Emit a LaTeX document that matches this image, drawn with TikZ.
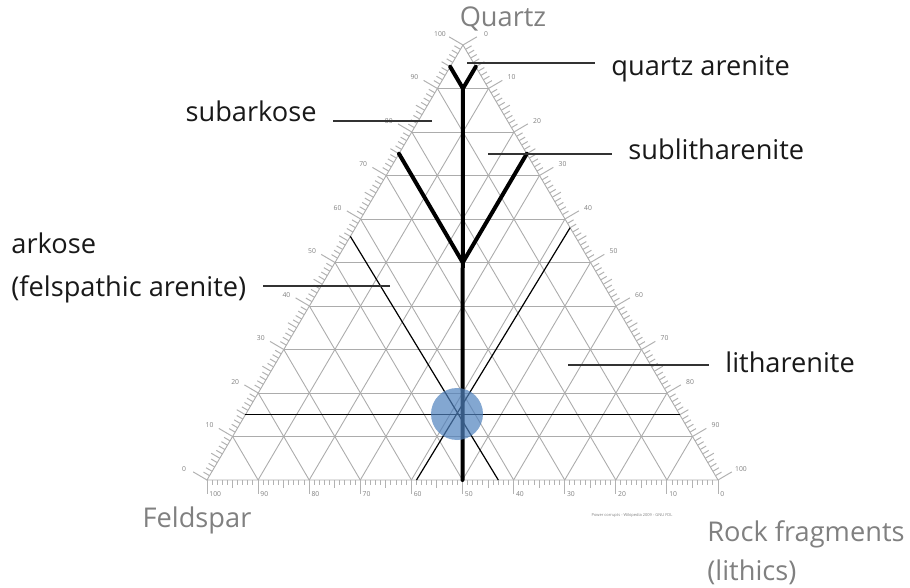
\documentclass[tikz,border=0pt]{standalone}
\usepackage{fontspec}
\setmainfont{Open Sans}
\usetikzlibrary{calc}
\begin{document}
\begin{tikzpicture}[x=0.5pt, y=-0.5pt,
    gridline/.style={draw=gray!65, line width=0.45pt},
    tickline/.style={draw=gray!60, line width=0.5pt},
    ticknum/.style={text=gray, font=\fontsize{3.4}{4}\selectfont, inner sep=0pt},
    classline/.style={line width=2pt, line cap=round},
    splitline/.style={line width=0.6pt},
    leader/.style={draw=black!80, line width=0.7pt},
    classname/.style={font=\fontsize{13.6}{16}\selectfont, text=black!90,
                      inner xsep=8pt, inner ysep=0pt},
    corner/.style={font=\fontsize{13.6}{16}\selectfont, text=gray, inner sep=0pt}
]
    \useasboundingbox (0,0) rectangle (910,588);

    % Corners of the triangle
    \coordinate (F) at (207,480);
    \coordinate (R) at (718,480);
    \coordinate (Q) at (463,45);

    % Grid every 10 %
    \foreach \i in {1,...,9}{
        \pgfmathsetmacro\a{\i/10}
        \pgfmathsetmacro\b{1-\i/10}
        \draw[gridline] (barycentric cs:Q=\a,F=\b) -- (barycentric cs:Q=\a,R=\b);
        \draw[gridline] (barycentric cs:R=\a,F=\b) -- (barycentric cs:R=\a,Q=\b);
        \draw[gridline] (barycentric cs:F=\a,R=\b) -- (barycentric cs:F=\a,Q=\b);
    }
    \draw[gridline] (F) -- (R) -- (Q) -- cycle;

    % Ticks
    \foreach \k in {0,...,100}{
        \pgfmathsetmacro\len{ifthenelse(mod(\k,10)==0,14,ifthenelse(mod(\k,5)==0,8,5))}
        \pgfmathsetmacro\side{ifthenelse(mod(\k,10)==0,16,ifthenelse(mod(\k,5)==0,10,7))}
        \draw[tickline] ($(F)!\k/100!(R)$) -- ++(0,{\len});
        \draw[tickline] ($(F)!\k/100!(Q)$) -- ++({-0.862*\side},{-0.506*\side});
        \draw[tickline] ($(Q)!\k/100!(R)$) -- ++({0.862*\side},{-0.506*\side});
    }

    % Tick numbers
    \foreach \v in {0,10,...,100}{
        \pgfmathtruncatemacro\w{100-\v}
        \node[ticknum, anchor=west] at ($(F)!\v/100!(R)+(2,14)$) {\w};
        \node[ticknum] at ($(F)!\v/100!(Q)+(-23,-11)$) {\v};
        \node[ticknum] at ($(Q)!\v/100!(R)+(23,-11)$) {\v};
    }

    % Class boundaries
    \coordinate (q95l) at (barycentric cs:Q=0.95,F=0.05);
    \coordinate (q95r) at (barycentric cs:Q=0.95,R=0.05);
    \coordinate (q90c) at (barycentric cs:Q=0.9,F=0.05,R=0.05);
    \coordinate (q75l) at (barycentric cs:Q=0.75,F=0.25);
    \coordinate (q75r) at (barycentric cs:Q=0.75,R=0.25);
    \coordinate (q50c) at (barycentric cs:Q=0.5,F=0.25,R=0.25);
    \coordinate (base) at (barycentric cs:F=0.5,R=0.5);
    \draw[classline] (q95l) -- (q90c) -- (q95r);
    \draw[classline] (q75l) -- (q50c) -- (q75r);
    \draw[classline] (q90c) -- (base);

    % Thin split lines
    \coordinate (q15l) at (barycentric cs:Q=0.15,F=0.85);
    \coordinate (q15r) at (barycentric cs:Q=0.15,R=0.85);
    \coordinate (sl1) at (barycentric cs:Q=0.56,F=0.44);
    \coordinate (sl2) at (barycentric cs:F=0.43,R=0.57);
    \coordinate (sr1) at (barycentric cs:Q=0.58,R=0.42);
    \coordinate (sr2) at (barycentric cs:F=0.59,R=0.41);
    \draw[splitline] (q15l) -- (q15r);
    \draw[splitline] (sl1) -- (sl2);
    \draw[splitline] (sr1) -- (sr2);

    % Class names
    \coordinate (qapt) at (467,63);
    \coordinate (sapt) at (432,121);
    \coordinate (slpt) at (488,154);
    \coordinate (arkpt) at (390,286);
    \coordinate (lipt) at (568,365);

    \node[classname, anchor=base west] (qa) at (595,76) {quartz arenite};
    \node[classname, anchor=base east] (sa) at (333,122) {subarkose};
    \node[classname, anchor=base west] (sl) at (612,160) {sublitharenite};
    \node[classname, anchor=base west] (ark) at (-5,254) {arkose};
    \node[classname, anchor=base west] (arkb) at (-5,297) {(felspathic arenite)};
    \node[classname, anchor=base west] (li) at (709,372) {litharenite};

    \draw[leader] (qapt) -- (qapt -| qa.west);
    \draw[leader] (sapt) -- (sapt -| sa.east);
    \draw[leader] (slpt) -- (slpt -| sl.west);
    \draw[leader] (arkpt) -- (arkpt -| arkb.east);
    \draw[leader] (lipt) -- (lipt -| li.west);

    % End members
    \node[corner, anchor=base] (nq) at (503,27) {Quartz};
    \node[corner, anchor=base] (nf) at (197,527) {Feldspar};
    \node[corner, anchor=base west] (nr) at (707,541) {Rock fragments};
    \node[corner, anchor=base west] (nr2) at (707,580) {(lithics)};

    \node[text=gray, font=\fontsize{2}{2.4}\selectfont, inner sep=0pt] (credit)
        at (632,515) {Power corrupts - Wikipedia 2009 - GNU FDL};

    % Marked composition
    \node[circle, fill={rgb,255:red,79;green,129;blue,189}, fill opacity=0.7,
          minimum size=26pt, inner sep=0pt] (mix) at (457,414) {};

\end{tikzpicture}
\end{document}
